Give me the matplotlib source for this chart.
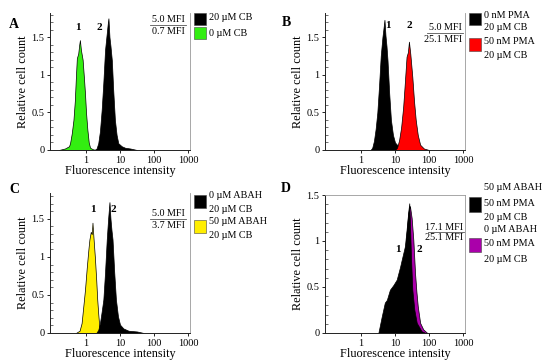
import numpy as np
import matplotlib
matplotlib.use("Agg")
import matplotlib.pyplot as plt
from matplotlib.ticker import MultipleLocator, LogLocator, FixedLocator, NullFormatter
from matplotlib.lines import Line2D
from matplotlib.patches import Rectangle

plt.rcParams['font.family'] = ['Liberation Serif', 'DejaVu Serif']

W, H = 550, 363

# --- histogram outlines: log10(fluorescence) and relative cell count ---
# Panel A
A_GREEN_LOG = [-0.8, -0.62, -0.5, -0.47, -0.42, -0.37, -0.33, -0.3, -0.27, -0.23, -0.2, -0.18,
               -0.15, -0.1, -0.06, -0.03, 0.0, 0.04, 0.08, 0.12, 0.2, 0.3]
A_GREEN_Y = [0.0, 0.02, 0.05, 0.09, 0.22, 0.4, 0.65, 0.95, 1.22, 1.28, 1.4, 1.46,
             1.33, 1.2, 0.95, 0.75, 0.5, 0.27, 0.1, 0.03, 0.01, 0.0]
A_BLACK_LOG = [0.25, 0.31, 0.36, 0.41, 0.46, 0.51, 0.56, 0.61, 0.64, 0.66, 0.69, 0.72, 0.76,
               0.8, 0.85, 0.9, 0.95, 1.05, 1.15, 1.3, 1.5]
A_BLACK_Y = [0.0, 0.02, 0.09, 0.25, 0.53, 0.9, 1.33, 1.55, 1.68, 1.75, 1.5, 1.38, 1.19,
             0.8, 0.4, 0.2, 0.09, 0.05, 0.03, 0.02, 0.0]

# Panel B
B_BLACK_LOG = [0.28, 0.33, 0.38, 0.43, 0.48, 0.53, 0.58, 0.63, 0.67, 0.69, 0.72, 0.75, 0.78,
               0.83, 0.88, 0.94, 1.0, 1.08, 1.15]
B_BLACK_Y = [0.0, 0.03, 0.12, 0.28, 0.5, 0.85, 1.25, 1.5, 1.65, 1.73, 1.52, 1.38, 1.19,
             0.75, 0.4, 0.2, 0.1, 0.06, 0.04]
B_RED_LOG = [1.0, 1.06, 1.12, 1.18, 1.24, 1.29, 1.34, 1.38, 1.41, 1.45, 1.51, 1.56, 1.61,
             1.67, 1.74, 1.85, 2.0]
B_RED_Y = [0.0, 0.03, 0.13, 0.3, 0.57, 0.9, 1.24, 1.3, 1.44, 1.28, 0.97, 0.65, 0.4,
           0.2, 0.07, 0.02, 0.0]

# Panel C
C_YELLOW_LOG = [-0.3, -0.19, -0.13, -0.08, -0.03, 0.02, 0.07, 0.1, 0.14, 0.17, 0.19, 0.22,
                0.26, 0.3, 0.33, 0.36, 0.39, 0.43]
C_YELLOW_Y = [0.0, 0.03, 0.13, 0.35, 0.57, 0.85, 1.1, 1.23, 1.33, 1.3, 1.45, 1.25,
              1.0, 0.7, 0.44, 0.25, 0.09, 0.0]
C_BLACK_LOG = [0.3, 0.36, 0.41, 0.46, 0.51, 0.56, 0.61, 0.65, 0.69, 0.72, 0.75, 0.78, 0.83,
               0.88, 0.94, 1.0, 1.1, 1.25, 1.5, 1.7]
C_BLACK_Y = [0.0, 0.04, 0.13, 0.28, 0.44, 0.8, 1.23, 1.5, 1.72, 1.5, 1.35, 1.23, 0.8,
             0.44, 0.22, 0.11, 0.06, 0.03, 0.02, 0.0]

# Panel D
D_MAGENTA_LOG = [0.9, 1.1, 1.3, 1.39, 1.44, 1.49, 1.54, 1.59, 1.63, 1.67, 1.74, 1.83, 1.95]
D_MAGENTA_Y = [0.3, 0.5, 0.9, 1.3, 1.38, 1.25, 1.01, 0.65, 0.45, 0.29, 0.11, 0.04, 0.0]
D_BLACK_LOG = [0.51, 0.61, 0.7, 0.76, 0.85, 0.95, 1.05, 1.15, 1.2, 1.29, 1.34, 1.39, 1.42,
               1.44, 1.47, 1.51, 1.57, 1.64, 1.78, 1.9]
D_BLACK_Y = [0.0, 0.18, 0.33, 0.36, 0.47, 0.52, 0.58, 0.72, 0.8, 0.94, 1.12, 1.32, 1.41,
             1.2, 0.83, 0.47, 0.25, 0.11, 0.02, 0.0]

X_TICKS = [1, 10, 100, 1000]
X_TICK_LABELS = ["1", "10", "100", "1000"]

# --- figure layout (pixel boxes: left, top, right, bottom) ---
fig = plt.figure(figsize=(W / 100, H / 100), dpi=100)


def fx(x):
    return x / W


def fy(y):
    return 1 - y / H


def make_ax(l, t, r, b, ymax, top_spine=False):
    ax = fig.add_axes([fx(l), fy(b), (r - l) / W, (b - t) / H])
    ax.set_xscale("log")
    ax.set_xlim(10 ** -1.06, 10 ** 3.06)
    ax.set_ylim(0, ymax)
    ax.xaxis.set_major_locator(FixedLocator(X_TICKS))
    ax.set_xticklabels(X_TICK_LABELS)
    ax.xaxis.set_minor_locator(LogLocator(base=10, subs=np.arange(2, 10)))
    ax.xaxis.set_minor_formatter(NullFormatter())
    ax.yaxis.set_major_locator(FixedLocator([0, 0.5, 1, 1.5]))
    ax.set_yticklabels(["0", "0.5", "1", "1.5"])
    ax.yaxis.set_minor_locator(MultipleLocator(0.1))
    ax.tick_params(which="major", direction="out", length=2.5, width=0.6, labelsize=7.5, pad=1.5)
    ax.tick_params(which="minor", direction="in", length=1.8, width=0.4)
    for s in ["left", "bottom"]:
        ax.spines[s].set_color("#222222")
        ax.spines[s].set_linewidth(0.7)
    ax.spines["right"].set_color("#999999")
    ax.spines["right"].set_linewidth(0.6)
    ax.spines["top"].set_visible(top_spine)
    ax.spines["top"].set_color("#999999")
    ax.spines["top"].set_linewidth(0.6)
    ax.set_xlabel("Fluorescence intensity", fontsize=8.8, labelpad=0)
    ax.set_ylabel("Relative cell count", fontsize=8.8, labelpad=1.5)
    return ax


def hist(ax, logs, ys, color):
    x = 10 ** np.array(logs)
    ax.fill_between(x, ys, 0, facecolor=color, edgecolor="black", linewidth=0.5, zorder=2)


def mfi(xr, yc, top, bottom):
    fig.text(fx(xr), fy(yc - 5), top, ha="right", va="center", fontsize=7.3)
    fig.text(fx(xr), fy(yc + 6), bottom, ha="right", va="center", fontsize=7.3)
    fig.add_artist(Line2D([fx(xr - 35), fx(xr + 1)], [fy(yc), fy(yc)],
                          color="#555555", linewidth=0.6))


def legend_entry(x, y0, y1, color, lines, y_lines):
    fig.add_artist(Rectangle((fx(x), fy(y1)), 12 / W, (y1 - y0) / H,
                             facecolor=color, edgecolor="#444444", linewidth=0.4))
    for txt, yy in zip(lines, y_lines):
        fig.text(fx(x + 15), fy(yy), txt, ha="left", va="center", fontsize=7.3)


def peak_label(x, y, s):
    fig.text(fx(x), fy(y), s, ha="center", va="center", fontsize=8, fontweight="bold")


def panel_label(x, y, s):
    fig.text(fx(x), fy(y), s, ha="center", va="center", fontsize=10, fontweight="bold")


# Panel A
axA = make_ax(50, 13, 190, 150, 1.82)
hist(axA, A_GREEN_LOG, A_GREEN_Y, "#33ee11")
hist(axA, A_BLACK_LOG, A_BLACK_Y, "black")
panel_label(14, 24, "A")
peak_label(78, 28, "1")
peak_label(99, 28, "2")
mfi(185, 25, "5.0 MFI", "0.7 MFI")
legend_entry(194, 13, 25, "black", ["20 \u00b5M CB"], [18])
legend_entry(194, 27, 39, "#33ee11", ["0 \u00b5M CB"], [33])

# Panel B
axB = make_ax(325, 13, 465, 150, 1.82)
hist(axB, B_BLACK_LOG, B_BLACK_Y, "black")
hist(axB, B_RED_LOG, B_RED_Y, "#ff0000")
panel_label(286, 23, "B")
peak_label(388, 25, "1")
peak_label(409, 25, "2")
mfi(462, 33, "5.0 MFI", "25.1 MFI")
legend_entry(469, 13, 25, "black", ["0 nM PMA", "20 \u00b5M CB"], [15, 28])
legend_entry(469, 38, 51, "#ff0000", ["50 nM PMA", "20 \u00b5M CB"], [42, 55])

# Panel C
axC = make_ax(50, 193, 190, 333, 1.84)
hist(axC, C_YELLOW_LOG, C_YELLOW_Y, "#ffee00")
hist(axC, C_BLACK_LOG, C_BLACK_Y, "black")
panel_label(14, 190, "C")
peak_label(93, 209, "1")
peak_label(113, 209, "2")
mfi(185, 219, "5.0 MFI", "3.7 MFI")
legend_entry(194, 195, 208, "black", ["0 \u00b5M ABAH", "20 \u00b5M CB"], [195, 209])
legend_entry(194, 220, 233, "#ffee00", ["50 \u00b5M ABAH", "20 \u00b5M CB"], [222, 236])

# Panel D
axD = make_ax(325, 195, 465, 333, 1.5, top_spine=True)
hist(axD, D_MAGENTA_LOG, D_MAGENTA_Y, "#aa00aa")
hist(axD, D_BLACK_LOG, D_BLACK_Y, "black")
panel_label(286, 188, "D")
peak_label(398, 249, "1")
peak_label(419, 249, "2")
mfi(463, 232, "17.1 MFI", "25.1 MFI")
legend_entry(469, 197, 212, "black", ["50 \u00b5M ABAH", "50 nM PMA", "20 \u00b5M CB"], [187, 203, 217])
legend_entry(469, 238, 252, "#aa00aa", ["0 \u00b5M ABAH", "50 nM PMA", "20 \u00b5M CB"], [230, 244, 259])

fig.savefig("out.png", dpi=100)
